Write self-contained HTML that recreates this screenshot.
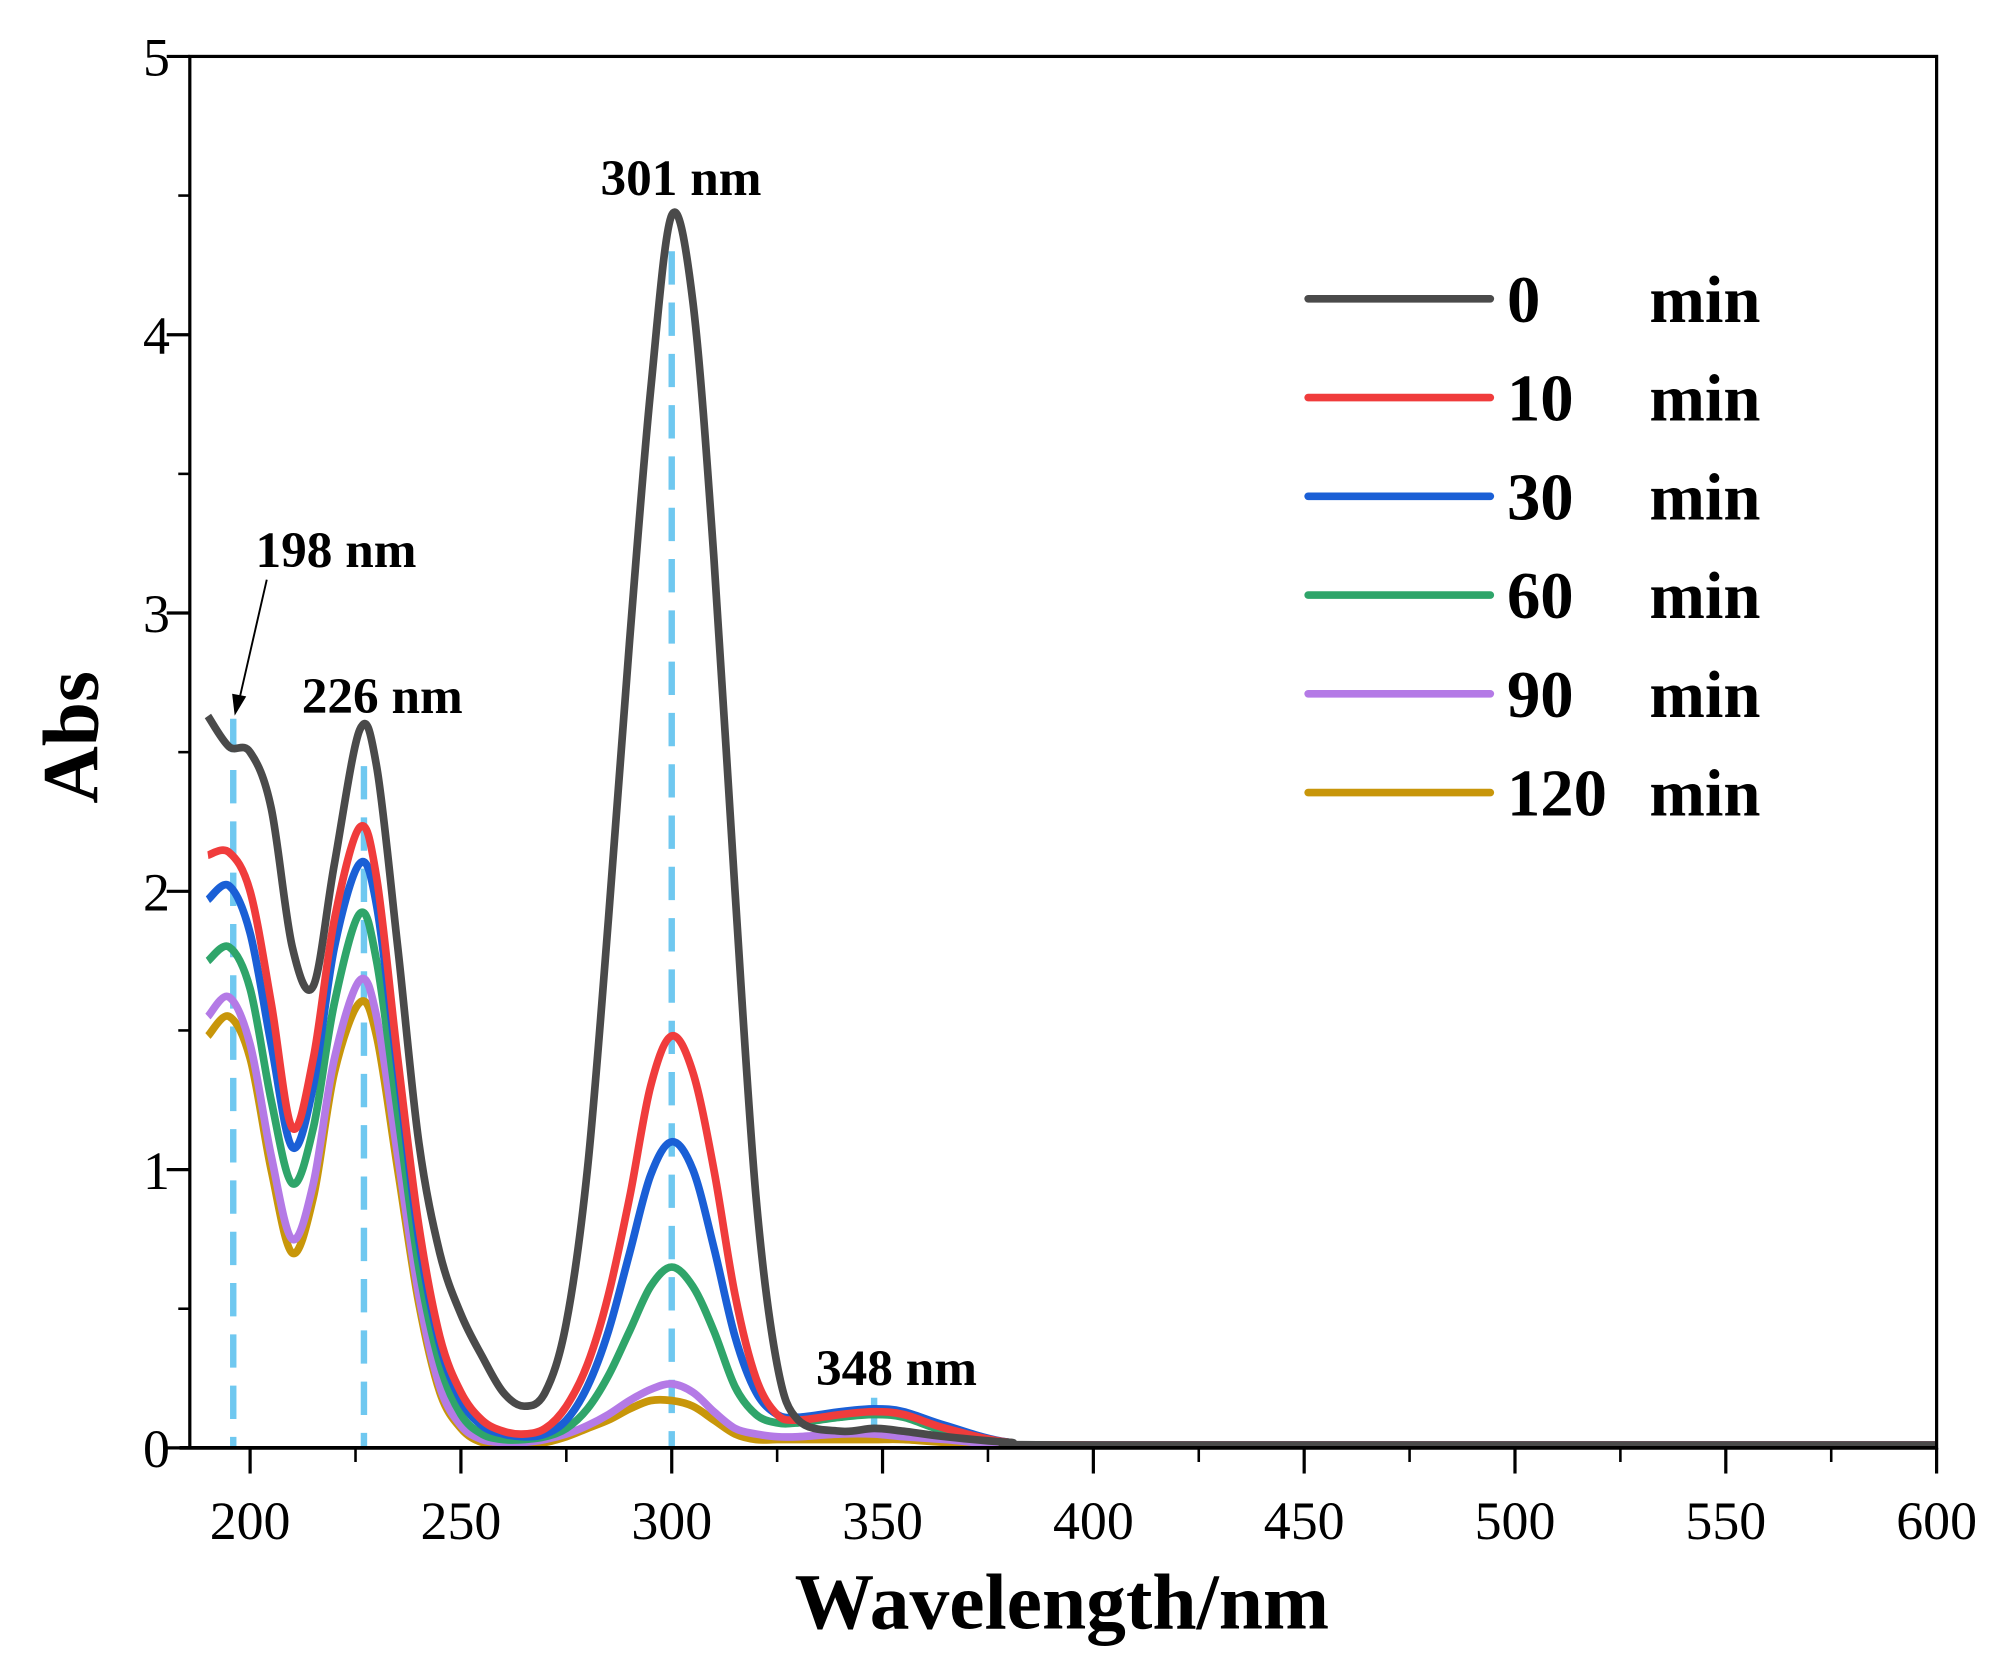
<!DOCTYPE html>
<html><head><meta charset="utf-8"><style>
html,body{margin:0;padding:0;background:#fff;}
svg{display:block;}
text{font-family:"Liberation Serif",serif;fill:#000;}
</style></head><body>
<svg id="chart" width="2011" height="1680" viewBox="0 0 1568 1310" preserveAspectRatio="none" xmlns="http://www.w3.org/2000/svg">
<rect x="0" y="0" width="1568" height="1310" fill="#fff"/>
<g id="grid"></g>
<g id="series"></g>
<g id="axes"></g>
<g id="legend"></g>
</svg>
<script>
const wavelengths=[190,195,200,205,210,215,220,226,230,235,240,245,250,255,260,265,270,275,280,285,290,295,300,305,310,315,320,325,330,340,348,355,365,380,400,600];
const s0=[2.63,2.52,2.5,2.3,1.8,1.66,2.1,2.58,2.45,1.8,1.1,0.7,0.48,0.33,0.2,0.15,0.2,0.45,1.0,1.9,2.9,3.8,4.43,4.12,3.2,2.0,0.9,0.3,0.1,0.06,0.07,0.06,0.04,0.02,0.01,0.01];
const s10=[2.13,2.14,2.0,1.6,1.15,1.4,1.9,2.23,2.05,1.4,0.8,0.4,0.2,0.1,0.06,0.05,0.07,0.15,0.3,0.55,0.9,1.3,1.48,1.35,1.0,0.55,0.25,0.12,0.1,0.12,0.13,0.12,0.07,0.02,0.01,0.01];
const s30=[1.97,2.02,1.85,1.45,1.08,1.3,1.8,2.1,1.95,1.35,0.75,0.37,0.17,0.08,0.05,0.04,0.05,0.1,0.22,0.42,0.7,0.98,1.1,1.0,0.72,0.4,0.2,0.12,0.11,0.13,0.14,0.13,0.08,0.02,0.01,0.01];
const s60=[1.75,1.8,1.65,1.25,0.95,1.15,1.6,1.92,1.75,1.2,0.65,0.3,0.12,0.05,0.03,0.03,0.04,0.07,0.14,0.26,0.42,0.58,0.65,0.58,0.42,0.22,0.12,0.09,0.09,0.11,0.12,0.11,0.06,0.02,0.01,0.01];
const s90=[1.55,1.62,1.45,1.05,0.75,0.95,1.4,1.68,1.55,1.05,0.55,0.22,0.08,0.03,0.02,0.02,0.03,0.05,0.08,0.12,0.17,0.21,0.23,0.2,0.13,0.07,0.05,0.04,0.04,0.05,0.05,0.04,0.03,0.01,0.01,0.01];
const s120=[1.48,1.55,1.4,1.0,0.7,0.9,1.35,1.6,1.48,1.0,0.52,0.2,0.07,0.02,0.02,0.02,0.02,0.04,0.07,0.1,0.14,0.17,0.17,0.15,0.1,0.05,0.03,0.03,0.03,0.03,0.03,0.03,0.02,0.01,0.01,0.01];
const seriesLabels=["0","10","30","60","90","120"];
const xTicks=[200,250,300,350,400,450,500,550,600];
const yTicks=[0,1,2,3,4,5];
const peakLines=[196,227,300,348];

const NS="http://www.w3.org/2000/svg";
const L=148,R=1510,T=44,B=1129,XMIN=185.7,XMAX=600,YMAX=5;
const xs=v=>L+(v-XMIN)/(XMAX-XMIN)*(R-L);
const ys=v=>B-v/YMAX*(B-T);
function mk(tag,attrs,parent,txt){const e=document.createElementNS(NS,tag);for(const k in attrs)e.setAttribute(k,attrs[k]);if(txt!==undefined)e.textContent=txt;parent.appendChild(e);return e;}
const G=document.getElementById('grid'),S=document.getElementById('series'),A=document.getElementById('axes'),LG=document.getElementById('legend');

function smoothPath(pts){
 let d='M'+pts[0][0].toFixed(1)+' '+pts[0][1].toFixed(1);
 for(let i=0;i<pts.length-1;i++){
  const p0=pts[Math.max(0,i-1)],p1=pts[i],p2=pts[i+1],p3=pts[Math.min(pts.length-1,i+2)];
  const t=1/6;
  const c1=[p1[0]+(p2[0]-p0[0])*t,p1[1]+(p2[1]-p0[1])*t];
  const c2=[p2[0]-(p3[0]-p1[0])*t,p2[1]-(p3[1]-p1[1])*t];
  if(i===pts.length-2){c1[1]=p1[1];c2[1]=p2[1];}
  d+=' C'+c1[0].toFixed(1)+' '+c1[1].toFixed(1)+' '+c2[0].toFixed(1)+' '+c2[1].toFixed(1)+' '+p2[0].toFixed(1)+' '+p2[1].toFixed(1);
 }
 return d;
}

const peakTops=[2.62,2.45,4.3,0.18];
peakLines.forEach((p,i)=>{
 const e=mk('line',{x1:xs(p),x2:xs(p),y1:ys(peakTops[i]),y2:B,stroke:'#6fc8f0','stroke-width':5,'stroke-dasharray':'26 14'},G);
 
 
});

const all=[s0,s10,s30,s60,s90,s120];
const colors=['#4a4a4a','#f03c3c','#1a5fd6','#2fa56a','#b47ae6','#c8960a'];
for(let i=all.length-1;i>=0;i--){
 const pts=all[i].map((v,j)=>[xs(wavelengths[j]),ys(v)]);
 const e=mk('path',{d:smoothPath(pts),fill:'none',stroke:colors[i],'stroke-width':6,'stroke-linejoin':'round'},S);
 
 
}

const fr=mk('rect',{x:L,y:T,width:R-L,height:B-T,fill:'none',stroke:'#000','stroke-width':2.5},A);


const xb=mk('line',{x1:L-8,x2:R,y1:B,y2:B,stroke:'#000','stroke-width':3},A);


xTicks.forEach(t=>{
 const e=mk('line',{x1:xs(t),x2:xs(t),y1:B,y2:B+20,stroke:'#000','stroke-width':2.5},A);
 
 
 const m=t+25;
 if(m<600){const e2=mk('line',{x1:xs(m),x2:xs(m),y1:B,y2:B+11,stroke:'#000','stroke-width':2},A);
 
 }
 const tx=mk('text',{x:xs(t),y:1200,'text-anchor':'middle','font-size':42},A,String(t));
 
 
});
yTicks.forEach(t=>{
 const e=mk('line',{x1:L-18,x2:L,y1:ys(t),y2:ys(t),stroke:'#000','stroke-width':2.5},A);
 
 
 if(t<5){const e2=mk('line',{x1:L-9,x2:L,y1:ys(t+0.5),y2:ys(t+0.5),stroke:'#000','stroke-width':2},A);
 
 }
 const tx=mk('text',{x:122,y:ys(t)+15,'text-anchor':'middle','font-size':42},A,String(t));
 
 
});
const xt=mk('text',{x:828,y:1270,'text-anchor':'middle','font-size':62,'font-weight':'bold'},A,'Wavelength/nm');


const yt=mk('text',{x:0,y:0,'text-anchor':'middle','font-size':62,'font-weight':'bold',transform:'translate(76,575) rotate(-90)'},A,'Abs');



const ann=[['301 nm',531,152],['198 nm',262,442],['226 nm',298,556],['348 nm',699,1080]];
ann.forEach(a=>{
 const e=mk('text',{x:a[1],y:a[2],'text-anchor':'middle','font-size':40,'font-weight':'bold'},A,a[0]);
 
 
});
const ar=mk('line',{x1:208,y1:452,x2:186,y2:548,stroke:'#000','stroke-width':1.5},A);


const ah=mk('polygon',{points:'183,558 181,541 192,543',fill:'#000'},A);



seriesLabels.forEach((lab,i)=>{
 const y=233+i*77;
 const g=mk('g',{},LG);
 
 
 mk('line',{x1:1020,x2:1162,y1:y,y2:y,stroke:colors[i],'stroke-width':6,'stroke-linecap':'round'},g);
 mk('text',{x:1175,y:y+18,'font-size':52,'font-weight':'bold'},g,lab);
 mk('text',{x:1286,y:y+18,'font-size':52,'font-weight':'bold'},g,'min');
});
</script>
</body></html>
